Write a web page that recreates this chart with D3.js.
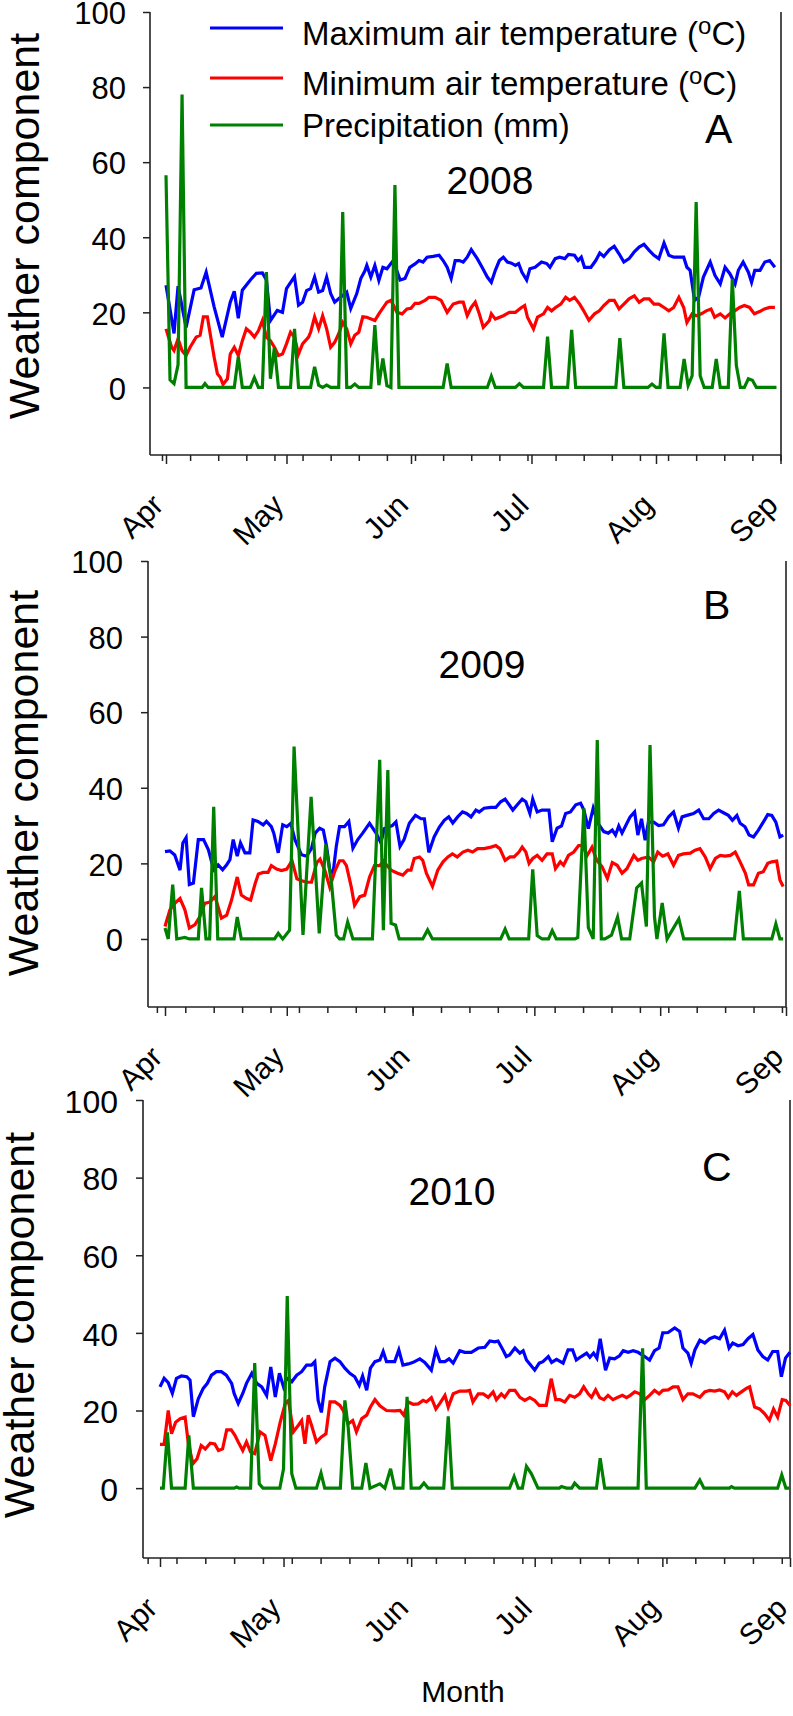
<!DOCTYPE html>
<html>
<head>
<meta charset="utf-8">
<script src="https://cdn.jsdelivr.net/npm/d3@7"></script>
<style>
  html, body { margin: 0; padding: 0; background: #fff; }
  svg { display: block; }
  text { font-family: "Liberation Sans", Arial, Helvetica, sans-serif; fill: #000; }
</style>
</head>
<body>
<script>
// ---------------- DATA ----------------
// day index: 0 = 1 April, 153 = 1 September
const monthLabels = ["Apr", "May", "Jun", "Jul", "Aug", "Sep"];
const monthDays = [0, 30, 61, 91, 122, 153];
const yTickValues = [0, 20, 40, 60, 80, 100];
const years = ["2008", "2009", "2010"];
const panelLetters = ["A", "B", "C"];
const legendLabels = ["Maximum air temperature (", "Minimum air temperature (", "Precipitation (mm)"];

// 2008
const maxA = [[0,27.2],[2,14.4],[3,27],[5,16],[7,26],[8.7,26.5],[10,30.7],[12,21.4],[14,13.4],[16,22.7],[17,25.6],[18,18.4],[19,25.9],[21,28.6],[22.5,30.4],[24,30.5],[25,28.6],[26,17.8],[27.7,20.5],[29,20],[30,26.3],[32,29.5],[33,21.9],[34,22.7],[35,25.8],[36,26.3],[37,29.4],[38,25.4],[39,25.8],[40,29.4],[41,25],[42,22.7],[43,23.6],[45,25.4],[46,21],[47.5,25],[48.5,29],[49.5,31],[50,32.5],[51,29.4],[52,32.5],[53,28.5],[54,32],[55,31.6],[56.3,33.4],[57,32.5],[58.3,28.6],[59.5,29],[60.7,32],[62,32.9],[63,33.8],[64,33.4],[65,34.7],[66.5,34.9],[68,35.2],[69,33.8],[70,32],[71,29],[72,33.8],[73,33.8],[74,33.4],[75,34.7],[76,36.7],[77.5,34.3],[78.7,32],[80,29.4],[81,28],[82,31.2],[83,33.8],[84,34.7],[85,33.4],[86,33.1],[87,32.5],[87.8,33],[88.6,30.7],[89.8,28.6],[90.6,31.6],[91.9,32],[93.5,33.4],[94.8,33],[95.6,32],[96.9,34.3],[98,34.7],[99.3,34.3],[100.2,35.4],[101.7,35.2],[102.6,33.8],[103.4,34.7],[104.2,32],[105.8,32],[107,33.8],[108,35.8],[109,34.9],[110.4,36.7],[111.6,37.6],[112.8,35.6],[114,33.4],[115.3,34.3],[116.6,36.1],[117.8,37.4],[119,38.1],[120.3,36.5],[121.5,35.2],[122.7,34.3],[124,38.5],[125.2,35.2],[126.4,34.7],[127.7,34.7],[128.9,34.7],[129.7,32],[130.5,31.2],[131.6,23.2],[132.6,24],[133.8,29.4],[135.5,33.4],[136.7,29.8],[138,27.6],[139.2,32],[140.4,30.3],[141.7,27.6],[142.5,31.2],[143.7,33.4],[145,30.7],[145.8,28],[146.6,31.2],[147.9,31.2],[149.1,33.4],[150.3,33.8],[151.6,32]];
const minA = [[0,15.6],[1.4,10.7],[2,9.8],[3,12.9],[4,9.8],[5,8.5],[6,10.7],[7.5,13.4],[8.5,13.9],[9.3,18.8],[10.3,18.8],[11,14.3],[12,8],[12.8,3.6],[13.5,2.7],[14.2,0.8],[15.3,2.3],[16,8.9],[17,10.7],[18,8.5],[19,12.4],[20,15.6],[21,14.7],[22,13.4],[23,15.1],[24,17.8],[25,13.4],[26,12.4],[27,10.7],[28,8.5],[29,8.9],[30,11.6],[31,14.7],[32,13.4],[33,8.9],[34,11.6],[35.5,13.4],[36,14.7],[37,18.8],[38,15.6],[39,19.1],[40,15.6],[41,10.7],[42,12],[43,14.3],[44,17.3],[45,15.6],[46,11.6],[47,13.9],[48,14.7],[49,18.8],[50,18.7],[52,17.8],[53,19.6],[55,22.7],[56,23.2],[57.5,20],[58.8,19.6],[60,20.9],[61,21.1],[62,22.4],[63,22.4],[64.5,23.2],[65.5,24],[67,24],[68.5,23.2],[70,20],[71.5,22.2],[73,22.7],[74,22.7],[75,19.1],[76,21.3],[77,22.7],[78,19.6],[79,16],[80.5,17.8],[81,19.6],[82,18.2],[84,19.1],[85.5,20],[87,20],[88.5,21.3],[89.3,21.8],[90,18.7],[91.5,15.6],[92.5,18.7],[94,19.6],[95,21.3],[96,20.4],[97,21.3],[98.3,22.2],[99.5,24],[100.5,23.2],[101.7,24],[103,22.2],[104,20.4],[105.3,17.9],[106.7,19.6],[107.9,20.4],[109,21.8],[110.4,23.2],[111.6,23.2],[112.8,20.9],[114,22.2],[115.3,23.6],[116.6,24.4],[117.8,22.7],[119,23.6],[120.3,23.6],[121.5,22.2],[122.7,22.2],[124,21.3],[125.2,20.4],[126.4,21.3],[127.7,24],[128.9,21.3],[129.7,17.3],[131,19.6],[132,19.1],[133.3,19.6],[134.5,20.4],[135.7,20.9],[136.6,18.7],[138,19.6],[139.2,18.5],[140.4,19.6],[141.6,20.4],[142.8,21.3],[144,21.8],[145.3,21.3],[146.5,19.6],[147.8,20.2],[149,20.9],[150.3,21.3],[151.6,21.3]];
const prcA = [[0,56.5],[1,2],[2,1],[3,6],[4,78],[5,0],[9,0],[9.7,1],[10.5,0],[17,0],[18,8.2],[19,0],[21,0],[22,2.6],[23,0],[24,0],[25,30.7],[26,2.3],[27,10.7],[28,0],[31,0],[32,15.6],[33,0],[36,0],[37,5.5],[38,0.6],[39,0],[40,0.6],[41,0],[43,0],[44,46.7],[45,0],[46,0],[47,0.9],[48,0],[51,0],[52,16.6],[53,0.6],[54,7.7],[55,0.5],[56,0],[57,53.9],[58,0],[69,0],[70,6.4],[71,0],[80,0],[81,3],[82,0],[87,0],[88,1],[89,0],[94,0],[95,13.5],[96,0],[100,0],[101,15.3],[102,0],[112,0],[113,13.1],[114,0],[120,0],[121,0.9],[122,0],[123,0],[124,14.4],[125,0],[128,0],[129,7.6],[130,0.5],[131,3.1],[132,49.4],[133,3.1],[134,0],[136,0],[137,7.6],[138,0],[140,0],[141,28.9],[142,5.9],[143,0],[144,0],[145,2.3],[146,1.9],[147,0],[152,0]];

// 2009
const maxB = [[0,23.1],[1.2,23.3],[2.4,22.2],[3.7,18.2],[4.4,25.4],[5.2,26.8],[6,14.4],[7,14.8],[8.2,26.3],[9.5,26.3],[10.7,23.6],[12,18.3],[13.1,19.6],[14.2,18.3],[15.2,19.6],[16,21],[16.8,26.3],[17.8,21.9],[18.6,25.4],[19.7,22.8],[20.9,22.8],[21.7,31.5],[22.9,31.1],[24.2,30.2],[25,31.1],[26.2,29.7],[26.8,28],[27.9,22.8],[29,30.2],[30,29.7],[31,30.6],[32,26.3],[33.6,22.3],[34.9,21.9],[36.1,24],[37,28],[38.1,29.3],[39,28.8],[39.8,24.5],[40.6,18.3],[41.4,17.4],[42.2,24.5],[43,29.7],[44.2,29.7],[45.3,31.1],[46.3,24],[47.5,26.3],[48.7,28],[50.4,30.6],[52,28],[53.2,25.4],[54,29.2],[56,30],[56.9,31],[57.9,24.5],[58.9,26.3],[60.2,30.6],[61.7,32.7],[63.1,31.8],[63.9,31.8],[65,22.9],[66.3,27],[67.6,29.6],[68.8,31.4],[69.9,32.3],[70.9,30.7],[72.1,32.3],[73.3,33.6],[74.3,33.2],[75.4,32.3],[76.6,34.1],[77.4,33.6],[78.6,34.6],[80.3,34.8],[81.5,34.8],[82.7,36.3],[83.8,37],[84.8,35.5],[85.7,34.1],[86.8,35.5],[88,37],[88.9,36.3],[89.9,33.2],[90.6,37],[91.7,33.6],[92.9,34.1],[94.6,34.1],[95.4,25.7],[96.6,29.3],[97.7,29.9],[98.7,33.2],[99.9,33.6],[101.2,35.5],[102.4,35.9],[103.2,34.1],[104.3,29.2],[105.5,34.6],[106.7,30.6],[108.1,28.4],[109.2,28],[110.2,28.8],[111,27.5],[111.8,29.9],[112.6,28],[113.8,30.6],[114.6,32.3],[115.7,33.6],[116.5,27.5],[117.4,31.8],[118.3,26.1],[119.1,30.9],[120.4,30.9],[121.6,30],[122.8,30.2],[124.1,32.3],[125.3,33.6],[126.5,29.3],[127.4,32.3],[128.6,32.7],[130.2,33.2],[131.5,34.1],[132.7,31.8],[134,31.8],[135.2,33.2],[136.4,34.1],[137.6,33.4],[138.8,32.7],[139.8,31.4],[140.9,32.7],[141.7,30.6],[142.9,29.7],[143.9,27.5],[145,27],[146.2,28.8],[147.4,30.9],[148.5,32.9],[149.5,32.7],[150.5,30.9],[151.5,27],[152.3,27.5]];
const minB = [[0,3.3],[1.2,7.7],[2.4,9.4],[3.7,10.7],[4.9,7.7],[6,2.9],[7.4,3.8],[8.6,5.9],[9.8,9.4],[11.1,9.8],[12.3,11.2],[13.1,8.5],[13.9,5.5],[15.2,6.3],[16.4,10.3],[17.8,16.4],[18.8,11.6],[20.1,10.7],[21.1,10.3],[22.2,14.6],[23,17.2],[24.2,17.6],[25.4,17.6],[26.2,19.4],[27.5,18.5],[28.7,18.1],[30,18.5],[31.3,20.7],[32.5,15.9],[33.7,15.4],[34.9,15],[36.1,15],[37.4,20.2],[38.2,21.1],[39.4,18.1],[40.6,13.7],[41.9,18.1],[43,20.7],[43.9,20.7],[44.7,19.4],[45.9,13.7],[46.7,8.9],[48,11.2],[49.2,11.6],[50.4,16.4],[51.6,19.4],[52.9,19.4],[53.8,20.6],[55.7,18.2],[57.3,17.4],[58.6,16.9],[59.8,18.2],[60.6,18.2],[61.4,21.3],[62.7,21.7],[63.5,20.8],[64.4,17.4],[65.9,13.9],[67.2,18.2],[68.5,20.4],[69.7,21.7],[70.8,22.5],[72,21.7],[73.4,23],[74.6,23.5],[75.8,23],[77,23.9],[78.6,23.9],[80.3,24.3],[81.5,24.7],[82.5,23.9],[83.8,20.8],[85,21.7],[86,21.7],[87.2,23],[88,24.3],[88.9,23],[89.7,20],[90.6,21.3],[91.7,22.1],[92.9,20.8],[94.1,22.5],[95.4,22.5],[96.2,18.6],[97.4,20.4],[98.2,19.5],[99.4,22.1],[100.7,23],[101.9,24.7],[102.9,24.7],[104,22.1],[105.2,24.3],[106.4,20.8],[107.7,19.1],[109,16],[110.2,20.2],[111.4,19.5],[112.6,17.4],[113.8,18.6],[115.5,22.1],[116.5,20.8],[117.4,21.3],[119.1,21.7],[120.4,20.4],[121.4,23],[122.6,21.9],[123.9,22.5],[125.3,19.5],[126.5,22.1],[127.7,22.5],[129.4,22.7],[130.6,23.5],[131.8,23.9],[133.1,21.7],[134.3,18.6],[135.6,21.3],[136.8,22.1],[138,21.9],[139.3,22.1],[140.5,23],[141.7,20.4],[143,17.4],[143.8,14.3],[145,14.3],[146.2,17.4],[147.4,17.8],[148.5,20],[149.5,20.4],[150.7,20.6],[151.5,15.6],[152.3,13.9]];
const prcB = [[0,2.9],[0.8,0],[1.9,14.4],[2.9,0],[4.9,0.4],[6,0],[8.2,0],[9,13.5],[10.1,0],[11,0],[12,35],[13,0],[17,0],[17.8,5.8],[18.8,0],[27,0],[27.9,1.5],[29,0],[30.7,2.3],[31.8,50.9],[34,1.1],[36,37.6],[38,1.5],[39.6,25],[41,15],[42.2,1],[43,0],[44,0],[45,4.5],[46.3,0],[51.1,0],[52.9,47.4],[53.8,2.3],[54.9,44.7],[55.7,4.1],[56.8,3.7],[57.7,0],[63.5,0],[64.7,2.4],[65.9,0],[82.7,0],[83.8,2.6],[84.8,0],[89.6,0],[90.6,18.4],[91.7,0.9],[92.9,0],[94.5,0],[95.4,2.2],[96.4,0],[101,0],[101.7,0.4],[103.2,34.6],[104.3,3],[105.5,0],[106.5,52.6],[107.5,0],[108.4,0],[110,1],[111.5,5.8],[112.5,0],[114.5,0],[116.2,13.5],[117.4,14.8],[118.6,3.3],[119.5,51.3],[120.6,5.8],[121.2,0],[122.5,9.5],[123.7,0],[124.9,2.2],[126.6,5.3],[127.8,0],[140.3,0],[141.5,12.7],[142.5,0],[149.5,0],[150.5,4],[151.5,0],[152.3,0]];

// 2010
const maxC = [[0,26.1],[1,28.3],[2,27.2],[3,24.4],[4,28.3],[5.2,28.9],[6.5,28.7],[7.3,27.8],[8.1,18.4],[9.3,23],[10.5,25.7],[11.5,27],[12.5,29.1],[13.7,30],[14.9,30],[16.1,29.1],[17.4,27],[18,24.4],[19,21.8],[20.1,24.4],[21,27],[22.3,29.6],[23.5,27],[24.7,26.1],[25.9,23.9],[26.9,31.2],[28,23.5],[29,29.6],[30,26.1],[30.8,28.3],[32,27.4],[33.2,29.1],[34.4,30],[35.6,31.7],[36.8,31.7],[37.6,32.6],[38.4,22.6],[39.2,19.5],[40,26.1],[41.3,32.6],[42.5,33.5],[43.7,32.6],[44.9,30.9],[46.1,29.6],[47.3,28.7],[48.4,26.5],[49.2,28.9],[50.2,25.2],[51.1,30.9],[52.2,32.6],[53.4,33],[54.2,35.2],[55,32.6],[57,32.6],[58,35.6],[59,31.7],[60.3,32],[61.5,32.4],[63.1,33.3],[64.3,32.4],[65.9,30.4],[67,35.6],[68,32.6],[69.2,32.6],[70.2,33.3],[71.2,32.2],[72.8,35.4],[74,35],[75.6,35],[77.3,36.1],[78.9,36.3],[80.1,37.9],[81.3,37.7],[82.1,37.9],[83.3,35.6],[84.1,33.9],[84.9,34.3],[86.2,36.1],[87.4,34.8],[88.2,35.4],[89,33],[90,31.7],[91,30.4],[92.1,32.2],[93,32.6],[94.3,33.9],[95.1,32.4],[96.3,33.2],[97.9,32.2],[99.1,35.6],[100.2,35.6],[101.1,33],[102.3,33.9],[103.6,34.8],[104.4,33.7],[105.3,34.8],[106.1,33.5],[106.9,38.5],[108.2,30.4],[109.2,33.5],[110.4,33.3],[111.6,34.1],[112.5,35.4],[113.7,35],[114.9,35.4],[116.1,35],[117.7,33.9],[118.9,33],[120.1,35.4],[121.2,36.1],[122.1,40],[123.4,40.1],[125,41.3],[126.2,40.4],[127,36.1],[128.2,34.8],[129,32.2],[129.9,35.6],[131.1,38.1],[132.3,37.4],[133.5,38.5],[134.7,39],[135.9,38.5],[137.1,40.7],[138.2,36.1],[139.1,37.4],[140.4,36.7],[141.6,37],[142.8,38.5],[144,39.6],[145.2,35.6],[146.4,33.9],[147.6,33],[148.8,35.2],[150,35.2],[150.9,28.7],[151.9,33.5],[153,35]];
const minC = [[0,11.3],[1,11.3],[2,20],[2.8,14],[3.8,17],[4.9,17.9],[6.1,18.3],[6.9,11.4],[8,6.3],[9,7.6],[10,11],[11,10.1],[12.2,11.6],[13.3,11.4],[14.2,9.7],[15.2,10.1],[16.2,15],[17.3,15],[18.2,13.6],[19,11.9],[20.1,9.7],[21,11.9],[22,9.3],[23,8.9],[24.3,14.5],[25.5,13.6],[26.9,7.1],[28,11.4],[29.2,17],[30.4,21.7],[31.2,22.6],[32.4,14.5],[33.6,16.2],[34.4,17.4],[35.2,11.4],[36,18.8],[36.8,16.2],[38,11.9],[39.2,13.2],[40.3,14],[41.3,22.2],[42.5,22.2],[43.7,21.3],[44.5,20],[45.7,16.6],[46.8,17.4],[47.7,14.5],[49,17.9],[50.2,18.8],[51.1,20.9],[52.2,22.8],[53.4,21.2],[55,20],[57,19.9],[58.3,20],[59.2,18.8],[60.3,22.2],[61.5,21.6],[62.7,21.7],[63.9,22.6],[64.7,22.2],[65.9,23.3],[67,20.4],[68,21.9],[69.2,23.9],[70,20.9],[71.2,24.3],[72.8,25],[74.4,25],[75.2,25.2],[76,22.2],[77.3,24.3],[78.5,24.3],[79.7,23.4],[80.9,24.8],[81.7,22.8],[82.9,24.3],[83.7,23.4],[84.9,25.2],[86.2,25.2],[87.4,23.4],[88.6,22.6],[89.8,23.3],[91,22.6],[92.1,21.3],[93.8,21.3],[95,28.2],[96.1,22.8],[97.1,22.8],[98.3,22.2],[99.5,23.9],[100.7,23.4],[101.9,24.3],[102.9,26.1],[104,24.3],[104.8,23.4],[105.8,25.3],[106.8,23.3],[107.8,22.8],[108.8,23.9],[110,22.8],[111.2,23.4],[112.3,23.9],[113.3,23.3],[114.2,23.9],[115.3,24.8],[116.5,24.3],[117.7,22.8],[118.9,23.9],[120.1,25.2],[121.2,24.3],[122.1,25.2],[123.4,25.3],[124.6,26.1],[125.8,26.1],[127,22.8],[128.2,24.3],[129.4,24.3],[131.1,23.4],[132.3,24.8],[133.5,25.2],[134.7,25],[135.9,25.3],[137.1,24.8],[138,23.3],[139,24.8],[140,23.9],[141.2,24.8],[142.4,25.7],[143.2,26.1],[144.4,20.9],[145.6,20.4],[146.8,19.2],[148,17.5],[149,20.4],[150,18.3],[151.1,22.8],[152,22.6],[153,21.3]];
const prcC = [[0,0],[0.8,0],[1.8,14.4],[2.8,0],[6.1,0],[7,13.6],[8.1,0],[18,0],[18.6,0.3],[19.2,0],[22,0],[23,32.2],[24.1,1.1],[25,0],[29.1,0],[30,5],[30.9,49.5],[32,3.7],[33,0],[38,0],[39.1,3.9],[40,0],[43.8,0],[44.9,22.6],[45.7,15.7],[46.8,0],[49,0],[50,6.5],[51,0],[53.4,1.1],[54.6,0],[56,5],[57,0],[59,0],[60,23.5],[61,0],[63.1,0],[64.1,1.3],[65.1,0],[68.9,0],[70,18.5],[71,0],[84.9,0],[86,3],[87,0],[88,0],[89,5.6],[90.2,3.7],[91.8,0],[97,0],[97.5,0.4],[98.7,0],[100,0],[100.7,1.3],[101.9,0],[106,0],[106.9,7.7],[108,0],[116.1,0],[117.2,36],[118.1,0],[129.9,0],[131.1,2.1],[132.1,0],[138.3,0],[138.8,0.4],[139.5,0],[150,0],[151,3.4],[152,0],[153,0]];

const panelSeries = [[maxA, minA, prcA], [maxB, minB, prcB], [maxC, minC, prcC]];

// ---------------- LAYOUT ----------------
const W = 793, H = 1716;
const colors = ["#0000ff", "#ff0000", "#008000"];
const FONT = '"Liberation Sans", Arial, Helvetica, sans-serif';

const layout = [
  {axisX:150, right:781, x0:166, x1:780.5, yTop:12,   yBot:455,  weekStart:-1, tickLabelX:126, tickFs:31, titleX:39, titleY:226,  yearX:490, yearY:194,  letterX:705, letterY:143},
  {axisX:148, right:786, x0:165, x1:786,   yTop:561,  yBot:1007, weekStart:-2, tickLabelX:123, tickFs:31, titleX:38, titleY:783,  yearX:482, yearY:678,  letterX:703, letterY:619},
  {axisX:143, right:790, x0:160, x1:790,   yTop:1100, yBot:1558, weekStart:-3, tickLabelX:118, tickFs:32, titleX:34, titleY:1325, yearX:452, yearY:1205, letterX:702, letterY:1181}
];

const svg = d3.select("body").append("svg")
  .attr("width", W).attr("height", H)
  .attr("viewBox", `0 0 ${W} ${H}`);

layout.forEach((L, i) => {
  const g = svg.append("g");
  const x = d3.scaleLinear().domain([0, 153]).range([L.x0, L.x1]);
  const y = d3.scaleLinear().domain([-18, 100]).range([L.yBot, L.yTop]);

  // y axis
  const ya = g.append("g").attr("transform", `translate(${L.axisX},0)`)
    .call(d3.axisLeft(y).tickValues(yTickValues).tickSize(7).tickSizeOuter(0).tickPadding(0));
  ya.select(".domain").remove();
  ya.selectAll(".tick line").attr("stroke", "#222").attr("stroke-width", 1.5);
  ya.selectAll(".tick text")
    .attr("x", L.tickLabelX - L.axisX).attr("dy", "0.38em")
    .attr("text-anchor", "end")
    .style("font-family", FONT).style("font-size", L.tickFs + "px").attr("fill", "#000");

  // minor (weekly) ticks
  const weeks = d3.range(L.weekStart, 154, 7);
  const xa1 = g.append("g").attr("transform", `translate(0,${L.yBot})`)
    .call(d3.axisBottom(x).tickValues(weeks).tickSize(6).tickFormat(""));
  xa1.select(".domain").remove();
  xa1.selectAll(".tick line").attr("stroke", "#222").attr("stroke-width", 1.5);
  // major (monthly) ticks
  const xa2 = g.append("g").attr("transform", `translate(0,${L.yBot})`)
    .call(d3.axisBottom(x).tickValues(monthDays).tickSize(9).tickFormat(""));
  xa2.select(".domain").remove();
  xa2.selectAll(".tick line").attr("stroke", "#222").attr("stroke-width", 1.5);

  // month labels
  g.selectAll(".mlab").data(monthDays).enter().append("text")
    .attr("class", "mlab")
    .attr("transform", (d) => `translate(${x(d) - 1},${L.yBot + 52}) rotate(-45)`)
    .attr("text-anchor", "end")
    .style("font-size", "30px")
    .text((d, k) => monthLabels[k]);

  // frame: left, bottom, right
  g.append("line").attr("x1", L.axisX).attr("x2", L.axisX).attr("y1", L.yTop).attr("y2", L.yBot)
    .attr("stroke", "#222").attr("stroke-width", 1.6);
  g.append("line").attr("x1", L.axisX).attr("x2", L.right).attr("y1", L.yBot).attr("y2", L.yBot)
    .attr("stroke", "#222").attr("stroke-width", 1.6);
  g.append("line").attr("x1", L.right).attr("x2", L.right).attr("y1", L.yTop).attr("y2", L.yBot)
    .attr("stroke", "#222").attr("stroke-width", 1.6);

  // data lines
  const line = d3.line().x(d => x(d[0])).y(d => y(d[1]));
  panelSeries[i].forEach((s, k) => {
    g.append("path").datum(s)
      .attr("d", line)
      .attr("fill", "none")
      .attr("stroke", colors[k])
      .attr("stroke-width", 3.2)
      .attr("stroke-linejoin", "miter");
  });

  // y title
  g.append("text")
    .attr("transform", `translate(${L.titleX},${L.titleY}) rotate(-90)`)
    .attr("text-anchor", "middle")
    .style("font-size", "43px")
    .text("Weather component");

  // year + letter
  g.append("text").attr("x", L.yearX).attr("y", L.yearY)
    .attr("text-anchor", "middle").style("font-size", "39px").text(years[i]);
  g.append("text").attr("x", L.letterX).attr("y", L.letterY)
    .style("font-size", "41px").text(panelLetters[i]);
});

// legend (panel A)
const legY = [28, 78, 125];
const legTextY = [45, 95, 137];
const leg = svg.append("g");
legendLabels.forEach((lab, k) => {
  leg.append("line").attr("x1", 210).attr("x2", 283).attr("y1", legY[k]).attr("y2", legY[k])
    .attr("stroke", colors[k]).attr("stroke-width", 3.2);
  const t = leg.append("text").attr("x", 302).attr("y", legTextY[k]).style("font-size", "33px");
  t.append("tspan").text(lab);
  if (k < 2) {
    t.append("tspan").attr("dy", -11).style("font-size", "24px").text("o");
    t.append("tspan").attr("dy", 11).text("C)");
  }
});

// x title
svg.append("text").attr("x", 463).attr("y", 1702).attr("text-anchor", "middle")
  .style("font-size", "30px").text("Month");
</script>
</body>
</html>
